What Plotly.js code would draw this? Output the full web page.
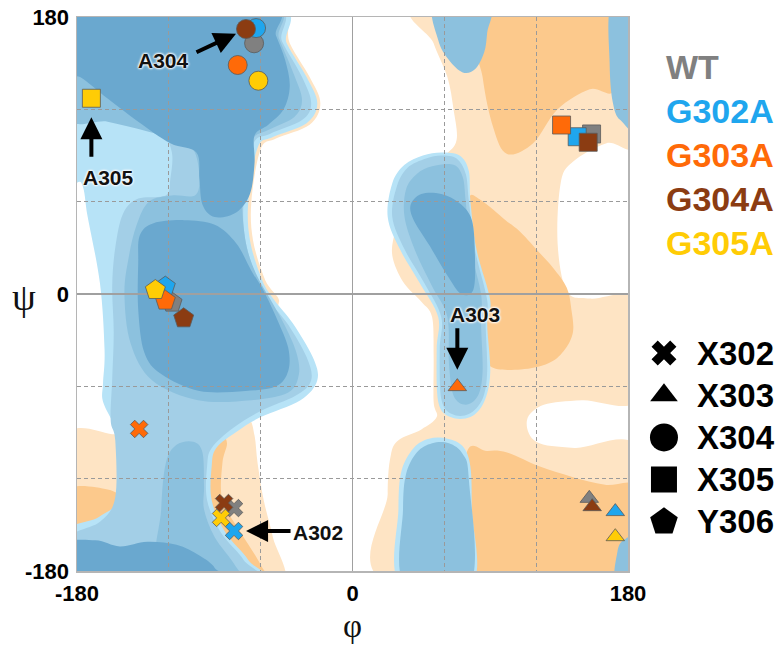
<!DOCTYPE html>
<html><head><meta charset="utf-8">
<script src="https://cdn.plot.ly/plotly-3.0.1.min.js"></script>
<style>html,body{margin:0;padding:0;background:#fff}</style>
</head><body><div id="chart" style="width:781px;height:647px"></div>
<script>
// ---------- data: marker positions (phi, psi) ----------
const series = ['WT','G302A','G303A','G304A','G305A'];
const seriesColors = ['#808080','#1fa6ee','#ff6a08','#8b3c12','#ffcc05'];
const residues = ['X302','X303','X304','X305','Y306'];
const residueSymbols = ['x','triangle-up','circle','square','pentagon'];
const phiWT    = [-77.4, 154.7, -64.3, 156.2, -117.9];
const psiWT    = [-139.1, -132.8, 162.9, 104.0, -5.6];
const phiG302A = [-77.4, 171.7, -63.0, 146.8, -122.3];
const psiG302A = [-154.0, -141.4, 172.8, 102.2, 4.8];
const phiG303A = [-139.4, 68.5, -75.0, 136.6, -122.3];
const psiG303A = [-87.7, -60.2, 148.8, 109.8, -4.3];
const phiG304A = [-83.9, 156.6, -69.6, 154.0, -110.3];
const psiG304A = [-135.8, -138.2, 172.2, 98.6, -15.8];
const phiG305A = [-85.9, 171.7, -61.5, -170.6, -128.8];
const psiG305A = [-145.5, -157.7, 138.6, 127.2, 2.6];
const axisTickVals = [-180,-120,-60,0,60,120,180];
const axisTickText = ['-180','','','0','','','180'];

// ---------- data: background contour outlines (phi, psi) ----------
const LO_L1 = [[-50,188],[-41,163],[-28,141],[-21,124],[-28,110],[-50,101],[-60,94],[-66,61],[-65,35],[-57,9],[-48,-5],[-62,-12],[-120,40],[-120,188]];
const LO_L2 = [[-96,-95],[-80,-84],[-68,-81],[-64,-92],[-62,-110],[-58,-134],[-52,-158],[-46,-188],[-96,-188]];
const O_L2  = [[-96,-96],[-86,-92],[-82,-97],[-85,-110],[-85,-134],[-73,-155],[-60,-176],[-57,-188],[-96,-188]];
const LO_L3 = [[-188,-93],[-158,-91],[-150,-97],[-148,-130],[-165,-148],[-188,-160]];
const O_L3  = [[-188,-128],[-160,-127],[-150,-136],[-165,-150],[-188,-162]];
const LO_R  = [[46,188],[188,188],[188,100],[166,98],[144,86],[136,72],[134,33],[140,2],[155,-3],[188,-5],[188,-68],[150,-69],[125,-72],[114,-82],[120,-96],[145,-100],[188,-101],[188,-188],[24,-188],[23,-130],[25,-105],[30,-95],[45,-88],[55,-80],[53,-70],[53,-40],[52,-15],[45,-5],[33,8],[26,25],[28,41],[35,60],[45,80],[60,90],[68,100],[66,120],[62,141],[53,163]];
const O_R_TOP = [[81,188],[172,188],[172,134],[155,133],[134,120],[118,98],[101,91],[92,108],[85,141]];
const O_R_MID = [[76,62],[84,61],[100,48],[110,40],[122,27],[131,17],[140,4],[143,-10],[144,-25],[138,-37],[128,-45],[110,-49],[90,-47],[84,-30],[80,0],[77,30]];
const O_R_BOT = [[74,-188],[74,-106],[88,-102],[101,-103],[122,-112],[144,-119],[165,-124],[188,-128],[188,-188]];

const B_L_OUT = [[-188,188],[-53,188],[-43,163],[-30,141],[-23,124],[-30,111],[-52,102],[-62,95],[-68,61],[-67,35],[-59,9],[-51,-4],[-39,-19],[-26,-41],[-23,-56],[-34,-69],[-60,-80],[-75,-89],[-89,-100],[-92,-112],[-92,-134],[-83,-155],[-68,-173],[-63,-188],[-188,-188],[-188,-155],[-166,-145],[-151,-131],[-151,-95],[-155,-86],[-163,-70],[-163,-58],[-162,-36],[-165,7],[-173,50],[-177,72],[-188,80]];
const B_L_1 = [[-188,188],[-56,188],[-46,164],[-33,141],[-27,124],[-33,113],[-54,104],[-65,97],[-71,61],[-70,35],[-62,9],[-54,-5],[-42,-20],[-30,-41],[-27,-56],[-37,-66],[-60,-76],[-78,-87],[-92,-100],[-95,-112],[-95,-134],[-86,-155],[-71,-173],[-66,-188],[-188,-188],[-188,-160],[-165,-148],[-155,-132],[-155,-95],[-158,-82],[-157,-55],[-156,-25],[-157,5],[-155,30],[-150,52],[-140,62],[-122,64],[-119,75],[-118,92],[-125,105],[-145,115],[-165,120],[-188,123]];
const B_L_2 = [[-188,188],[-57,188],[-48,166],[-38,142],[-33,126],[-38,115],[-54,107],[-66,100],[-71,78],[-72,55],[-69,30],[-62,11],[-54,-3],[-45,-19],[-37,-37],[-35,-52],[-42,-64],[-66,-69],[-101,-69],[-131,-56],[-145,-32],[-149,0],[-146,25],[-141,45],[-133,60],[-118,64],[-103,64],[-100,75],[-103,92],[-112,99],[-135,106],[-160,112],[-188,117]];
const B_L_2B = [[-126,-188],[-125,-140],[-122,-110],[-115,-98],[-104,-96],[-98,-103],[-97,-125],[-97,-140],[-90,-158],[-77,-176],[-74,-188]];
const B_L_D_TOP = [[-188,188],[-58,188],[-50,168],[-44,152],[-41,135],[-45,120],[-55,110],[-64,103],[-64,85],[-67,65],[-76,53],[-90,50],[-98,58],[-100,75],[-102,92],[-119,98],[-140,112],[-160,127],[-178,141],[-188,143]];
const B_L_D_ALPHA = [[-139,38],[-130,46],[-110,48],[-90,45],[-76,33],[-66,15],[-58,2],[-49,-17],[-42,-35],[-42,-50],[-50,-60],[-70,-63],[-100,-63],[-125,-52],[-136,-38],[-140,-10],[-140,20]];
const B_L_D_BOT = [[-188,-188],[-188,-163],[-168,-160],[-152,-164],[-134,-161],[-115,-163],[-100,-170],[-90,-178],[-88,-188]];

const B_R_OUT = [[46,90],[58,92],[70,90],[76,80],[77,61],[81,29],[90,-4],[88,-19],[90,-51],[86,-70],[77,-80],[64,-80],[56,-70],[55,-36],[56,-15],[44,7],[31,29],[23,50],[26,72],[34,84]];
const B_R_1 = [[48,88],[58,90],[68,88],[74,78],[76,61],[80,29],[88,-4],[87,-19],[88,-50],[85,-68],[76,-78],[65,-78],[58,-68],[57,-36],[58,-15],[47,7],[34,29],[26,50],[29,70],[36,82]];
const B_R_2 = [[52,83],[66,84],[72,76],[74,60],[77,30],[84,0],[84,-20],[85,-50],[82,-66],[74,-72],[66,-66],[63,-45],[62,-15],[52,5],[41,28],[34,50],[35,68],[42,78]];
const B_R_D = [[38,58],[45,65],[58,65],[70,59],[78,48],[80,25],[79,3],[71,0],[62,12],[50,32],[40,48]];
const B_R2_OUT = [[31,-188],[30,-140],[32,-115],[40,-100],[50,-94],[62,-94],[72,-99],[77,-112],[78,-140],[78,-188]];
const B_R2_IN = [[34,-188],[33,-140],[35,-117],[42,-103],[52,-97],[63,-97],[72,-104],[76,-120],[77,-188]];
const B_R_BLOB = [[54,188],[56,165],[63,152],[72,144],[80,146],[86,157],[88,170],[89,188]];
const B_R_STRIP = [[169,188],[168,150],[170,125],[175,113],[188,110],[188,188]];
const B_R_CORNER = [[172,-188],[173,-168],[177,-160],[188,-158],[188,-188]];

// ---------- styles ----------
const C = {lorange:'#fee4c4', orange:'#fcc98c', light:'#b7e3f7', lb1:'#a3cfe7', lb2:'#8cc1de', dark:'#6aa8cf'};
const regionOrder = [
  [LO_L1,'lorange'],[LO_L2,'lorange'],[O_L2,'orange'],[LO_L3,'lorange'],[O_L3,'orange'],
  [LO_R,'lorange'],[O_R_TOP,'orange'],[O_R_MID,'orange'],[O_R_BOT,'orange'],
  [B_L_OUT,'light'],[B_L_1,'lb1'],[B_L_2,'lb2'],[B_L_2B,'lb2'],[B_L_D_TOP,'dark'],[B_L_D_ALPHA,'dark'],[B_L_D_BOT,'dark'],
  [B_R_OUT,'light'],[B_R_1,'lb1'],[B_R_2,'lb2'],[B_R_D,'dark'],[B_R2_OUT,'light'],[B_R2_IN,'lb2'],
  [B_R_BLOB,'lb2'],[B_R_STRIP,'lb2'],[B_R_CORNER,'lb2']
];

function smoothPath(pts){
  const n = pts.length, f = v => v.toFixed(2);
  let d = 'M' + f(pts[0][0]) + ',' + f(pts[0][1]);
  for(let i=0;i<n;i++){
    const p0=pts[(i-1+n)%n], p1=pts[i], p2=pts[(i+1)%n], p3=pts[(i+2)%n];
    const c1=[p1[0]+(p2[0]-p0[0])/6, p1[1]+(p2[1]-p0[1])/6];
    const c2=[p2[0]-(p3[0]-p1[0])/6, p2[1]-(p3[1]-p1[1])/6];
    d += 'C'+f(c1[0])+','+f(c1[1])+' '+f(c2[0])+','+f(c2[1])+' '+f(p2[0])+','+f(p2[1]);
  }
  return d + 'Z';
}
const shapes = regionOrder.map(([pts,col]) => ({
  type:'path', xref:'x', yref:'y', layer:'below', path: smoothPath(pts),
  fillcolor: C[col], line:{width:0}
}));

// ---------- marker traces ----------
const sizeBySymbol = {'x':15.5,'triangle-up':16,'circle':19,'square':18,'pentagon':21};
const phis = [phiWT,phiG302A,phiG303A,phiG304A,phiG305A];
const psis = [psiWT,psiG302A,psiG303A,psiG304A,psiG305A];
const traces = series.map((name,i) => ({
  type:'scatter', mode:'markers', name: name, x: phis[i], y: psis[i], xaxis:'x', yaxis:'y',
  text: residues, hoverinfo:'name+text',
  marker:{symbol: residueSymbols, size: residueSymbols.map(s=>sizeBySymbol[s]), opacity:1,
          color: seriesColors[i], line:{color:'#5a5a5a', width:0.8}}
}));

// symbol legend (right panel)
const legSymX = 664, legTop = 353, legStep = 42.2;
const legSize = {'x':22,'triangle-up':24,'circle':28,'square':26,'pentagon':29};
traces.push({
  type:'scatter', mode:'markers', xaxis:'x2', yaxis:'y2', hoverinfo:'skip',
  x: residues.map(()=>legSymX), y: residues.map((r,i)=>legTop+i*legStep),
  marker:{symbol: residueSymbols, size: residueSymbols.map(s=>legSize[s]), opacity:1, color:'#000', line:{width:0}}
});

const FONT = 'Liberation Sans, Arial, sans-serif';
const halo = '0 0 3px #fff, 0 0 3px #fff, 0 0 2px #fff, 0 0 2px #fff';
const annotations = [];
// residue legend text
residues.forEach((r,i)=>annotations.push({xref:'x2', yref:'y2', x:695, y:legTop+i*legStep, text:r,
  showarrow:false, xanchor:'left', yanchor:'middle', font:{family:FONT, size:33, weight:'bold', color:'#000'}}));
// series legend text
const serTop = 67, serStep = 44;
series.forEach((s,i)=>annotations.push({xref:'x2', yref:'y2', x:664, y:serTop+i*serStep, text:s,
  showarrow:false, xanchor:'left', yanchor:'middle', font:{family:FONT, size:34, weight:'bold', color:seriesColors[i]}}));

// labelled arrows tied to markers
function callout(label, phiArr, psiArr, idx, ax, ay, standoff, tx, ty){
  annotations.push({x:phiArr[idx], y:psiArr[idx], xref:'x', yref:'y', text:'', showarrow:true,
    ax:ax, ay:ay, standoff:standoff, arrowhead:2, arrowsize:1.1, arrowwidth:4, arrowcolor:'#000'});
  annotations.push({x:phiArr[idx], y:psiArr[idx], xref:'x', yref:'y', text:label, showarrow:false,
    xshift:tx, yshift:ty, font:{family:FONT, size:21, weight:'bold', color:'#111', shadow:halo}});
}
callout('A304', phiG304A, psiG304A, 2, -51, 24, 11, -82, -31);
callout('A305', phiG305A, psiG305A, 3, 0, 60, 19, 17, -79);
callout('A303', phiG303A, psiG303A, 1, 0, -60, 17, 18, 72);
callout('A302', phiG302A, psiG302A, 0, 58, 0, 12, 84, -2);

// axis symbols
annotations.push({xref:'paper', yref:'paper', x:(24-77)/704, y:(571-297)/554, text:'ψ', showarrow:false,
  xanchor:'center', yanchor:'middle', font:{family:'Liberation Serif, DejaVu Serif, serif', size:38, color:'#111'}});
annotations.push({xref:'paper', yref:'paper', x:(352-77)/704, y:(571-646)/554, text:'φ', showarrow:false,
  xanchor:'center', yanchor:'bottom', font:{family:'Liberation Serif, DejaVu Serif, serif', size:33, color:'#111'}});

const axisCommon = {
  range:[-180,180], tickvals: axisTickVals, ticktext: axisTickText, ticks:'', 
  showgrid:true, gridcolor:'#9a9a9a', gridwidth:1.2, griddash:'4px,3px',
  zeroline:true, zerolinecolor:'#a0a0a0', zerolinewidth:1.5,
  showline:true, linecolor:'#b5b5b5', linewidth:1.5, mirror:true,
  tickfont:{family:FONT, size:22, weight:'bold', color:'#000'}, fixedrange:true
};
const layout = {
  width:781, height:647, margin:{l:77, r:0, t:17, b:76},
  paper_bgcolor:'#fff', plot_bgcolor:'#fff', showlegend:false,
  xaxis: Object.assign({}, axisCommon, {domain:[0, 551/704], ticklabelstandoff:2}),
  yaxis: Object.assign({}, axisCommon, {domain:[0,1], ticklabelstandoff:2}),
  xaxis2:{domain:[0.79,1], range:[633.2,781], visible:false, anchor:'y2', fixedrange:true},
  yaxis2:{domain:[0,1], range:[571,17], visible:false, anchor:'x2', fixedrange:true},
  shapes: shapes, annotations: annotations
};
Plotly.newPlot('chart', traces, layout, {displayModeBar:false, staticPlot:true});
</script></body></html>
